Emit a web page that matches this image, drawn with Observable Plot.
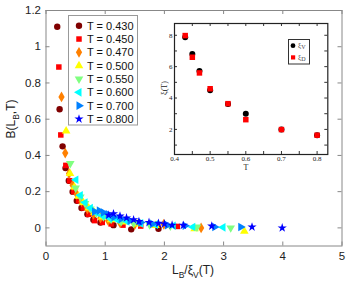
<!DOCTYPE html>
<html><head><meta charset="utf-8">
<script src="https://cdn.jsdelivr.net/npm/d3@7"></script>
<script src="https://cdn.jsdelivr.net/npm/@observablehq/plot@0.6"></script>
<style>
body{margin:0;background:#fff;}
#chart{position:relative;width:353px;height:283px;font-family:"Liberation Sans",Arial,sans-serif;}
#chart svg{position:absolute;left:0;top:0;}
</style></head><body><div id="chart"></div>
<script>
// ---- main data: B(L_B,T) vs L_B/xi_V(T) ----
const temps = ["0.430","0.450","0.470","0.500","0.550","0.600","0.700","0.800"];
const colors = ["#800000","#ff0000","#ff8000","#ffff00","#80ff80","#00ffff","#0080ff","#0000ff"];
const symbols = ["circle","square","diamond","triangle","triangle","triangle","triangle","star"];
const rotations = [0,0,0,0,180,-90,90,0];
const sizes = [3.2,3.1,3.3,3.2,3.2,3.2,3.2,2.9];

const x430 = [0.19,0.23,0.28,0.33,0.385,0.45,0.52,0.6,0.7,0.8,0.92,1.14,1.44,1.9];
const y430 = [1.11,0.655,0.45,0.33,0.26,0.2,0.15,0.11,0.075,0.045,0.03,0.015,-0.008,-0.005];
const x450 = [0.217,0.25,0.335,0.4,0.47,0.55,0.63,0.72,0.82,0.95,1.1,1.3,1.6,2.22];
const y450 = [0.888,0.513,0.345,0.26,0.2,0.15,0.11,0.075,0.04,0.03,0.022,0.015,0.01,0.008];
const x470 = [0.262,0.325,0.39,0.45,0.52,0.6,0.7,0.8,0.92,1.05,1.25,1.5,1.99,2.62];
const y470 = [0.723,0.413,0.3,0.235,0.185,0.145,0.105,0.075,0.055,0.04,0.028,0.018,0.02,0.0];
const x500 = [0.34,0.405,0.48,0.55,0.63,0.72,0.82,0.95,1.1,1.3,1.55,1.85,2.51,3.35];
const y500 = [0.535,0.3,0.225,0.175,0.14,0.11,0.085,0.06,0.045,0.032,0.022,0.013,-0.005,-0.018];
const x550 = [0.41,0.5,0.58,0.66,0.75,0.85,0.97,1.1,1.27,1.48,1.75,2.1,2.55,3.12];
const y550 = [0.355,0.22,0.17,0.135,0.105,0.08,0.062,0.048,0.035,0.025,0.017,0.01,0.005,0.0];
const x600 = [0.505,0.58,0.66,0.75,0.85,0.95,1.07,1.2,1.37,1.6,1.85,2.15,2.48,2.99];
const y600 = [0.266,0.18,0.14,0.11,0.085,0.068,0.054,0.045,0.035,0.025,0.018,0.012,0.005,0.003];
const x700 = [0.82,0.9,0.97,1.05,1.15,1.27,1.42,1.6,1.8,2.05,2.35,2.85,3.29];
const y700 = [0.09,0.095,0.085,0.075,0.06,0.05,0.04,0.03,0.022,0.015,0.012,0.005,0.005];
const x800 = [1.06,1.14,1.25,1.36,1.48,1.57,1.74,1.9,2.0,2.13,2.32,2.8,3.48,3.99];
const y800 = [0.07,0.078,0.065,0.055,0.045,0.035,0.03,0.025,0.022,0.015,0.014,0.01,0.005,0.0];

const seriesX = [x430,x450,x470,x500,x550,x600,x700,x800];
const seriesY = [y430,y450,y470,y500,y550,y600,y700,y800];

const xTicks = [0,1,2,3,4,5];
const yTicks = [0,0.2,0.4,0.6,0.8,1,1.2];

// ---- inset data: xi(T) ----
const insetT = [0.43,0.45,0.47,0.5,0.55,0.6,0.7,0.8];
const xiV = [7.87,6.81,5.73,4.49,3.62,3.0,2.0,1.62];
const xiD = [7.98,6.6,5.6,4.59,3.64,2.62,1.99,1.63];
const insetXLabels = [0.4,0.5,0.6,0.7,0.8];
const insetXMinor = [0.4,0.45,0.5,0.55,0.6,0.65,0.7,0.75,0.8];
const insetYLabels = [2,4,6,8];
const insetYMinor = [1,2,3,4,5,6,7,8];

const W = 353, H = 283;
const mL = 45.5, mR = 11.5, mT = 10, mB = 37.5;
const fw = W - mL - mR, fh = H - mT - mB;
const tl = 4;

const dotMarks = seriesX.map((xs, i) => Plot.dot(xs.map((x, j) => ({x, y: seriesY[i][j]})), {
  x: "x", y: "y", fill: colors[i], stroke: "none", symbol: symbols[i], rotate: rotations[i], r: sizes[i]
}));

const main = Plot.plot({
  width: W, height: H,
  marginLeft: mL, marginRight: mR, marginTop: mT, marginBottom: mB,
  style: {background: "transparent", color: "#222", fontFamily: "Liberation Sans, Arial, sans-serif"},
  x: {domain: [0, 5]},
  y: {domain: [-0.1, 1.2]},
  marks: [
    Plot.ruleX(xTicks, {x: d => d, insetTop: fh - tl, stroke: "#888"}),
    Plot.ruleX(xTicks, {x: d => d, insetBottom: fh - tl, stroke: "#888"}),
    Plot.ruleY(yTicks, {y: d => d, insetRight: fw - tl, stroke: "#888"}),
    Plot.ruleY(yTicks, {y: d => d, insetLeft: fw - tl, stroke: "#888"}),
    Plot.frame({stroke: "#888"}),
    Plot.axisX({ticks: xTicks, tickSize: 0, tickPadding: 6, tickFormat: d => String(d), fontSize: 11.5, label: null}),
    Plot.axisY({ticks: yTicks, tickSize: 0, tickPadding: 5, tickFormat: d => String(d), fontSize: 11.5, label: null}),
    ...dotMarks
  ]
});
document.getElementById("chart").appendChild(main);

// ---- inset ----
const iL = 174, iR = 327.3, iT = 23, iB = 154;
const ifw = iR - iL, ifh = iB - iT, itl = 3;
const inset = Plot.plot({
  width: W, height: H,
  marginLeft: iL, marginRight: W - iR, marginTop: iT, marginBottom: H - iB,
  style: {background: "transparent", color: "#222", fontFamily: "Liberation Serif, Times New Roman, serif"},
  x: {domain: [0.4, 0.83]},
  y: {domain: [0.4, 8.75]},
  marks: [
    Plot.frame({fill: "white", stroke: "none"}),
    Plot.ruleX(insetXMinor, {x: d => d, insetTop: ifh - itl, stroke: "#333"}),
    Plot.ruleX(insetXMinor, {x: d => d, insetBottom: ifh - itl, stroke: "#333"}),
    Plot.ruleY(insetYMinor, {y: d => d, insetRight: ifw - itl, stroke: "#333"}),
    Plot.ruleY(insetYMinor, {y: d => d, insetLeft: ifw - itl, stroke: "#333"}),
    Plot.frame({stroke: "#222", strokeWidth: 1.2}),
    Plot.axisX({ticks: insetXLabels, tickSize: 0, tickPadding: 2, tickFormat: d => String(d), fontSize: 7, label: null}),
    Plot.axisY({ticks: insetYLabels, tickSize: 0, tickPadding: 2, tickFormat: d => String(d), fontSize: 7, label: null}),
    Plot.dot(insetT.map((t, i) => ({t, v: xiV[i]})), {x: "t", y: "v", fill: "black", r: 3}),
    Plot.dot(insetT.map((t, i) => ({t, v: xiD[i]})), {x: "t", y: "v", fill: "red", symbol: "square", r: 3.1})
  ]
});
document.getElementById("chart").appendChild(inset);

// ---- overlay: axis labels and legends ----
const ov = d3.select("#chart").append("svg").attr("width", W).attr("height", H)
  .style("font-family", "Liberation Sans, Arial, sans-serif");

// x label
const xl = ov.append("text").attr("x", 193).attr("y", 274).attr("text-anchor", "middle")
  .attr("font-size", 12).attr("fill", "#222");
xl.append("tspan").text("L");
xl.append("tspan").attr("font-size", 8.5).attr("dy", 3.5).text("B");
xl.append("tspan").attr("dy", -3.5).text("/ξ");
xl.append("tspan").attr("font-size", 8.5).attr("dy", 3.5).text("V");
xl.append("tspan").attr("dy", -3.5).text("(T)");

// y label
const yl = ov.append("text").attr("transform", "translate(15,119) rotate(-90)").attr("text-anchor", "middle")
  .attr("font-size", 12).attr("fill", "#222");
yl.append("tspan").text("B(L");
yl.append("tspan").attr("font-size", 8.5).attr("dy", 3.5).text("B");
yl.append("tspan").attr("dy", -3.5).text(",T)");

// main legend
const lg = ov.append("g");
lg.append("rect").attr("x", 68.5).attr("y", 15.5).attr("width", 69).attr("height", 109.5)
  .attr("fill", "white").attr("stroke", "#999");
const symMap = {circle: d3.symbolCircle, square: d3.symbolSquare, diamond: d3.symbolDiamond, triangle: d3.symbolTriangle, star: d3.symbolStar};
temps.forEach((t, i) => {
  const cy = 25.7 + i * 13.33;
  lg.append("path")
    .attr("d", d3.symbol(symMap[symbols[i]], Math.PI * sizes[i] * sizes[i])())
    .attr("transform", `translate(79,${cy}) rotate(${rotations[i]})`)
    .attr("fill", colors[i]);
  lg.append("text").attr("x", 87).attr("y", cy + 4).attr("font-size", 11).attr("fill", "#111")
    .text(`T = ${t}`);
});

// inset axis labels
const serif = "Liberation Serif, Times New Roman, serif";
ov.append("text").attr("x", 246).attr("y", 170).attr("text-anchor", "middle")
  .attr("font-size", 8).attr("font-family", serif).attr("fill", "#222").text("T");
ov.append("text").attr("transform", "translate(167,88) rotate(-90)").attr("text-anchor", "middle")
  .attr("font-size", 8).attr("font-family", serif).attr("fill", "#222").text("ξ(T)");

// inset legend
const il = ov.append("g").attr("font-family", serif);
il.append("rect").attr("x", 288.5).attr("y", 39.5).attr("width", 21).attr("height", 24.5)
  .attr("fill", "white").attr("stroke", "#333");
il.append("circle").attr("cx", 293).attr("cy", 45.7).attr("r", 2.4).attr("fill", "black");
il.append("rect").attr("x", 291).attr("y", 55.3).attr("width", 4.2).attr("height", 4.2).attr("fill", "red");
const t1 = il.append("text").attr("x", 298).attr("y", 47).attr("font-size", 7).attr("fill", "#444");
t1.append("tspan").text("ξ");
t1.append("tspan").attr("font-size", 6).attr("dy", 2).text("V");
const t2 = il.append("text").attr("x", 298).attr("y", 58.5).attr("font-size", 7).attr("fill", "#444");
t2.append("tspan").text("ξ");
t2.append("tspan").attr("font-size", 6).attr("dy", 2).text("D");
</script></body></html>
